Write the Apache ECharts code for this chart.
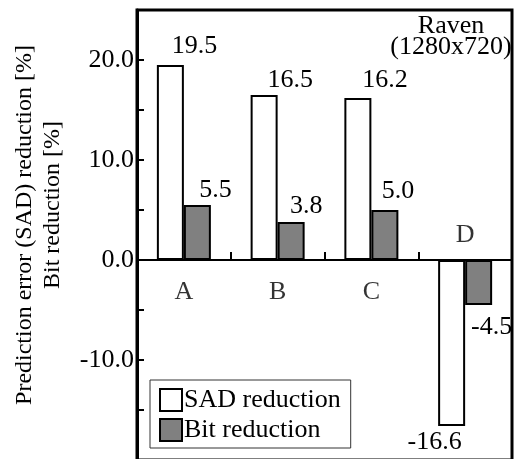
<!DOCTYPE html>
<html>
<head>
<meta charset="utf-8">
<script src="https://cdn.jsdelivr.net/npm/echarts@6/dist/echarts.min.js"></script>
<style>
html,body{margin:0;padding:0;background:#fff;}
#chart{width:518px;height:459px;}
</style>
</head>
<body>
<div id="chart"></div>
<script>
const categories = ['A', 'B', 'C', 'D'];
const sadValues = [19.5, 16.5, 16.2, -16.6];
const bitValues = [5.5, 3.8, 5.0, -4.5];
const seriesNames = ['SAD reduction', 'Bit reduction'];
const yTitleLines = ['Prediction error (SAD) reduction [%]', 'Bit reduction [%]'];
const noteLines = ['Raven', '(1280x720)'];

const FONT = "'Liberation Serif', 'Times New Roman', Times, serif";
const FS = 26;

// label placement tweaks (style only)
const sadLabelTweak = [[24, 6], [26, 2], [27, 5], [-17, 3]];
const bitLabelTweak = [[18, 2], [15, 3], [13, 6], [13, 9]];

function barData(values, tweaks) {
  return values.map((v, i) => ({
    value: v,
    label: {
      position: v >= 0 ? 'top' : 'bottom',
      distance: tweaks[i][1],
      offset: [tweaks[i][0], 0]
    }
  }));
}

const chart = echarts.init(document.getElementById('chart'), null, {renderer: 'canvas'});
chart.setOption({
  animation: false,
  backgroundColor: '#fff',
  textStyle: {fontFamily: FONT, color: '#000'},
  grid: {left: 137, top: 10, width: 375, height: 450, show: true, borderColor: '#000', borderWidth: 3,
         backgroundColor: 'transparent', containLabel: false, outerBoundsMode: 'none'},
  legend: {
    data: seriesNames,
    orient: 'vertical',
    left: 150, top: 380,
    itemWidth: 22, itemHeight: 22, itemGap: 4,
    padding: [7, 10, 5, 9],
    borderColor: '#333', borderWidth: 1,
    icon: 'rect',
    textStyle: {fontFamily: FONT, fontSize: FS, lineHeight: 26, color: '#000', padding: [0, 0, 0, -3]}
  },
  xAxis: {
    type: 'category',
    data: categories,
    axisLine: {onZero: true, lineStyle: {color: '#000', width: 2}},
    axisTick: {show: true, inside: true, length: 8, lineStyle: {color: '#000', width: 2}},
    axisLabel: {show: false},
    splitLine: {show: false}
  },
  yAxis: {
    type: 'value',
    min: -20, max: 25, interval: 5,
    name: '{a|' + yTitleLines[0] + '}\n{b|' + yTitleLines[1] + '}',
    nameLocation: 'middle',
    nameGap: 70,
    nameTextStyle: {
      fontFamily: FONT, fontSize: 24, color: '#000', lineHeight: 28,
      rich: {
        a: {fontFamily: FONT, fontSize: 24, lineHeight: 28, color: '#000', padding: [0, 0, 0, 20]},
        b: {fontFamily: FONT, fontSize: 24, lineHeight: 28, color: '#000', padding: [0, 0, 0, 60]}
      }
    },
    axisLine: {show: true, lineStyle: {color: '#000', width: 3}},
    axisTick: {show: true, inside: true, length: 7, lineStyle: {color: '#000', width: 2}},
    axisLabel: {
      margin: 3, fontFamily: FONT, fontSize: FS, color: '#000',
      showMinLabel: false, showMaxLabel: false,
      formatter: v => (v % 10 === 0 ? v.toFixed(1) : '')
    },
    splitLine: {show: false}
  },
  series: [
    {
      name: seriesNames[0], type: 'bar', barWidth: 27, barGap: '0%',
      itemStyle: {color: '#fff', borderColor: '#000', borderWidth: 2},
      label: {show: true, fontFamily: FONT, fontSize: FS, color: '#000', formatter: p => p.value.toFixed(1)},
      data: barData(sadValues, sadLabelTweak)
    },
    {
      name: seriesNames[1], type: 'bar', barWidth: 27, barGap: '0%',
      itemStyle: {color: '#808080', borderColor: '#000', borderWidth: 2},
      label: {show: true, fontFamily: FONT, fontSize: FS, color: '#000', formatter: p => p.value.toFixed(1)},
      data: barData(bitValues, bitLabelTweak)
    },
    {
      name: 'catLabels', type: 'scatter', symbolSize: 0, silent: true,
      data: categories.map((c, i) => ({
        value: [c, 0],
        label: {
          show: true,
          position: sadValues[i] >= 0 ? 'bottom' : 'top',
          distance: sadValues[i] >= 0 ? 19 : 12,
          formatter: c,
          fontFamily: FONT, fontSize: FS, color: '#000'
        }
      }))
    }
  ],
  graphic: [{
    type: 'text',
    x: 451, y: 16,
    style: {
      text: noteLines.join('\n'),
      fontFamily: FONT, fontSize: FS, lineHeight: 21,
      fill: '#000', align: 'center', verticalAlign: 'top'
    }
  }]
});
</script>
</body>
</html>
